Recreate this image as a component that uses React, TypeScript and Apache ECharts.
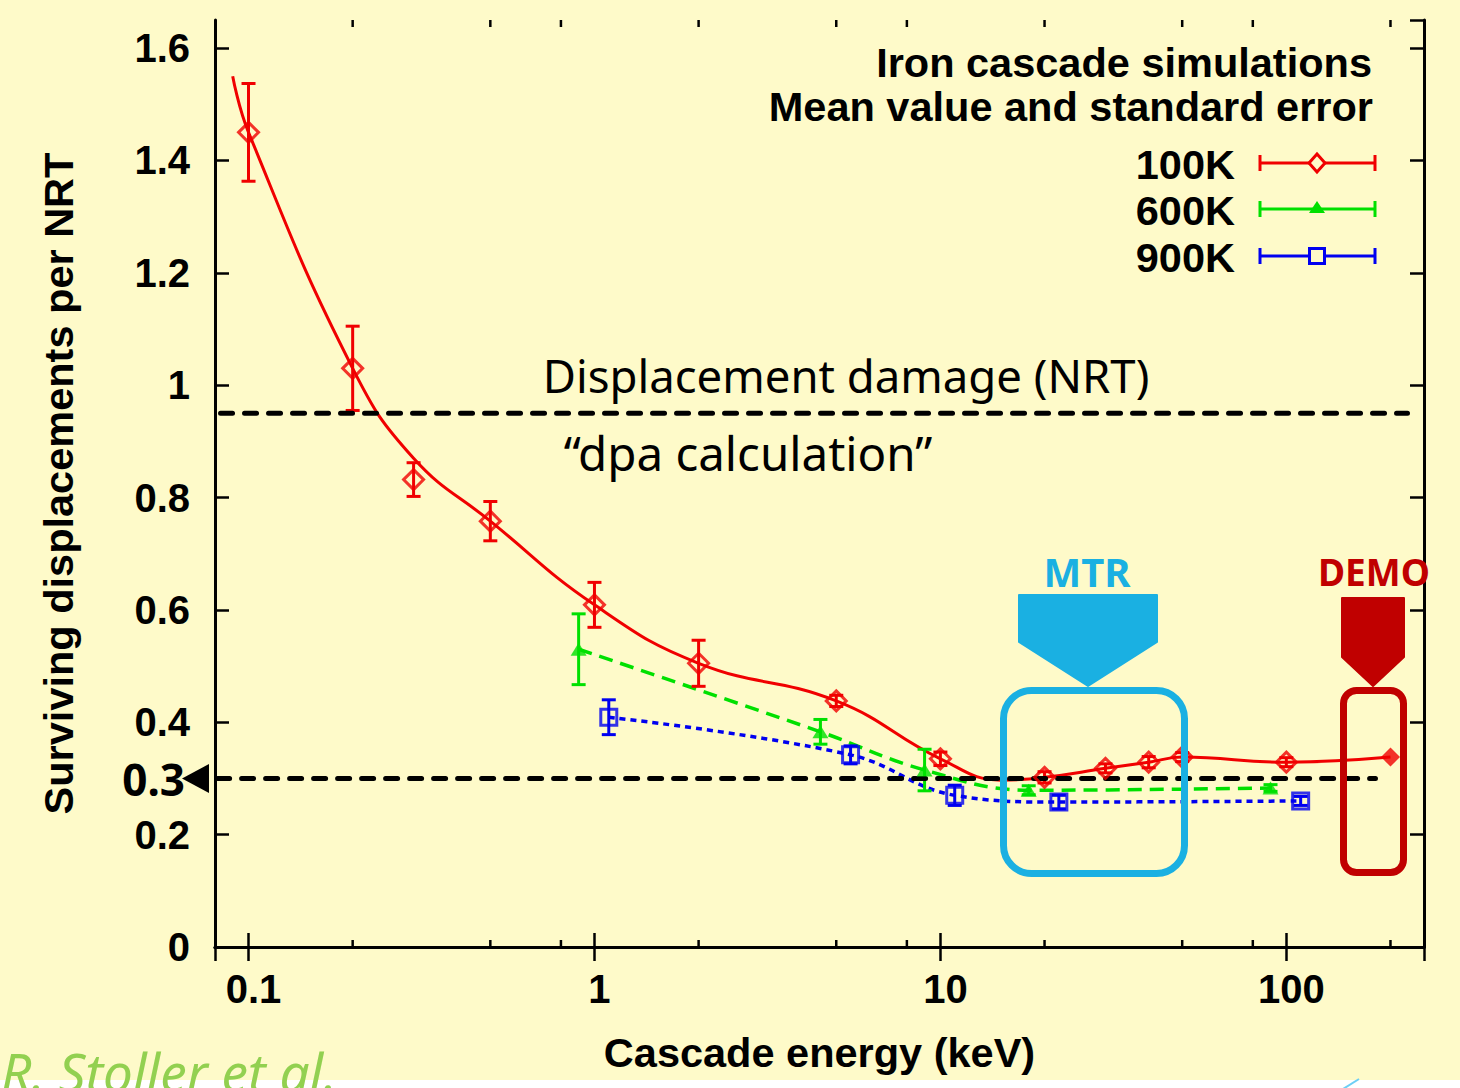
import React, { useEffect, useRef } from "react";
import * as echarts from "echarts";

// ---- data -------------------------------------------------------------
// 100K: cascade energy (keV), mean surviving displacements per NRT, standard error
const energy100K = [0.1, 0.2, 0.3, 0.5, 1, 2, 5, 10, 20, 30, 40, 50, 100];
const mean100K = [1.45, 1.03, 0.832, 0.758, 0.609, 0.505, 0.438, 0.335, 0.302, 0.318, 0.329, 0.338, 0.329];
const err100K = [0.087, 0.075, 0.03, 0.035, 0.04, 0.041, 0.01, 0.012, 0.01, 0.008, 0.01, 0.008, 0.008];
// 100K, highest energy point (no error bar)
const energy100KHigh = [200];
const mean100KHigh = [0.338];
// smooth fit drawn through the 100K means
const fitEnergy100K = [0.09, 0.1, 0.2, 0.3, 0.5, 1, 2, 5, 10, 15, 20, 30, 40, 50, 100, 200];
const fitValue100K = [1.55, 1.45, 1.03, 0.87, 0.758, 0.609, 0.505, 0.438, 0.335, 0.297, 0.302, 0.318, 0.329, 0.338, 0.329, 0.338];

// 600K
const energy600K = [0.9, 4.5, 9, 18, 90];
const mean600K = [0.53, 0.383, 0.315, 0.279, 0.283];
const err600K = [0.063, 0.022, 0.037, 0.008, 0.006];

// 900K
const energy900K = [1.1, 5.5, 11, 22, 110];
const mean900K = [0.409, 0.342, 0.27, 0.258, 0.26];
const err900K = [0.031, 0.016, 0.018, 0.012, 0.008];

const seriesNames = ["100K", "600K", "900K"];

// reference levels (value, energy span of the dashed line)
const nrtLevel = 0.95;
const nrtSpan = [0.083, 224];
const thresholdLevel = 0.3;
const thresholdSpan = [0.0814, 181];
const thresholdLabel = "0.3";

// axes
const X_MIN = 0.08;
const X_MAX = 250;
const Y_MIN = 0;
const Y_MAX = 1.65;
const Y_STEP = 0.2;
const xMinorTicks = [0.2, 0.5, 0.8, 2, 5, 8, 20, 50, 80, 200];

// ---- styles -----------------------------------------------------------
const RED = "#f00000";
const GREEN = "#00e000";
const BLUE = "#0000f0";
const MTR_BLUE = "#1ab0e2";
const DEMO_RED = "#c00000";
const BG = "#fefac9";
const AXIS_FONT = '"Liberation Sans", Arial, sans-serif';
const SLIDE_FONT = '"Noto Sans", sans-serif';

const tickText = { fontFamily: AXIS_FONT, fontWeight: "bold" as const, fontSize: 40, color: "#000" };
const nameText = { fontFamily: AXIS_FONT, fontWeight: "bold" as const, fontSize: 41.5, color: "#000" };

const zip = (xs: number[], ys: number[]) => xs.map((x, i) => [x, ys[i]]);

function errorBars(xs: number[], ys: number[], es: number[], color: string) {
  return {
    type: "custom",
    z: 4,
    clip: false,
    silent: true,
    data: xs.map((x, i) => [x, ys[i] - es[i], ys[i] + es[i]]),
    renderItem: (_p: any, api: any) => {
      const lo = api.coord([api.value(0), api.value(1)]);
      const hi = api.coord([api.value(0), api.value(2)]);
      const hw = 7;
      const style = { stroke: color, lineWidth: 3, fill: null };
      return {
        type: "group",
        children: [
          { type: "line", shape: { x1: lo[0], y1: lo[1], x2: hi[0], y2: hi[1] }, style },
          { type: "line", shape: { x1: lo[0] - hw, y1: lo[1], x2: lo[0] + hw, y2: lo[1] }, style },
          { type: "line", shape: { x1: hi[0] - hw, y1: hi[1], x2: hi[0] + hw, y2: hi[1] }, style },
        ],
      };
    },
  };
}

function buildOption(): any {
  const frameLine = { show: true, lineStyle: { color: "#000", width: 3 } };
  const majorTick = { show: true, inside: true, length: 14, lineStyle: { color: "#000", width: 2.5 } };
  const hidden = { show: false };
  return {
    animation: false,
    backgroundColor: BG,
    grid: { left: 215, right: 36, top: 20, bottom: 141, containLabel: false },
    xAxis: [
      {
        type: "log",
        logBase: 10,
        min: X_MIN,
        max: X_MAX,
        position: "bottom",
        axisLine: frameLine,
        axisTick: majorTick,
        splitLine: hidden,
        axisLabel: { ...tickText, margin: 22, padding: [0, 0, 0, 10], showMinLabel: false, showMaxLabel: false },
        name: "Cascade energy (keV)",
        nameLocation: "middle",
        nameGap: 84,
        nameTextStyle: nameText,
      },
      {
        type: "log",
        logBase: 10,
        min: X_MIN,
        max: X_MAX,
        position: "top",
        axisLine: frameLine,
        axisTick: majorTick,
        splitLine: hidden,
        axisLabel: hidden,
      },
    ],
    yAxis: [
      {
        type: "value",
        min: Y_MIN,
        max: Y_MAX,
        interval: Y_STEP,
        position: "left",
        axisLine: frameLine,
        axisTick: majorTick,
        splitLine: hidden,
        axisLabel: { ...tickText, margin: 25, showMaxLabel: false },
        name: "Surviving displacements per NRT",
        nameLocation: "middle",
        nameGap: 136,
        nameTextStyle: nameText,
      },
      {
        type: "value",
        min: Y_MIN,
        max: Y_MAX,
        interval: Y_STEP,
        position: "right",
        axisLine: frameLine,
        axisTick: majorTick,
        splitLine: hidden,
        axisLabel: hidden,
      },
    ],
    series: [
      // minor ticks of the log energy axis, bottom and top edges
      {
        type: "custom",
        z: 1,
        clip: false,
        silent: true,
        data: xMinorTicks.map((v) => [v, Y_MIN]),
        renderItem: (_p: any, api: any) => {
          const b = api.coord([api.value(0), Y_MIN]);
          const t = api.coord([api.value(0), Y_MAX]);
          const style = { stroke: "#000", lineWidth: 2.5 };
          return {
            type: "group",
            children: [
              { type: "line", shape: { x1: b[0], y1: b[1], x2: b[0], y2: b[1] - 7 }, style },
              { type: "line", shape: { x1: t[0], y1: t[1], x2: t[0], y2: t[1] + 7 }, style },
            ],
          };
        },
      },
      {
        name: seriesNames[0],
        type: "line",
        z: 3,
        data: zip(fitEnergy100K, fitValue100K),
        smooth: 0.45,
        showSymbol: false,
        lineStyle: { color: RED, width: 3 },
      },
      {
        name: seriesNames[1],
        type: "line",
        z: 3,
        data: zip(energy600K, mean600K),
        smooth: 0.4,
        showSymbol: false,
        lineStyle: { color: GREEN, width: 3.5, type: [14, 8] },
      },
      {
        name: seriesNames[2],
        type: "line",
        z: 3,
        data: zip(energy900K, mean900K),
        smooth: 0.4,
        showSymbol: false,
        lineStyle: { color: BLUE, width: 3.5, type: [6, 5] },
      },
      errorBars(energy100K, mean100K, err100K, RED),
      errorBars(energy600K, mean600K, err600K, GREEN),
      errorBars(energy900K, mean900K, err900K, BLUE),
      // reference levels
      {
        type: "line",
        z: 5,
        data: [[nrtSpan[0], nrtLevel], [nrtSpan[1], nrtLevel]],
        showSymbol: false,
        lineStyle: { color: "#000", width: 5, type: [12, 12], cap: "round" },
      },
      {
        type: "line",
        z: 5,
        data: [[thresholdSpan[0], thresholdLevel], [thresholdSpan[1], thresholdLevel]],
        showSymbol: false,
        lineStyle: { color: "#000", width: 5, type: [12, 12], cap: "round" },
      },
      {
        type: "scatter",
        z: 6,
        data: zip(energy100K, mean100K),
        symbol: "diamond",
        symbolSize: [20, 20],
        itemStyle: { color: "rgba(0,0,0,0)", borderColor: RED, borderWidth: 3 },
      },
      {
        type: "scatter",
        z: 6,
        data: zip(energy100KHigh, mean100KHigh),
        symbol: "diamond",
        symbolSize: [19, 19],
        itemStyle: { color: RED },
      },
      {
        type: "scatter",
        z: 6,
        data: zip(energy600K, mean600K),
        symbol: "triangle",
        symbolSize: [16, 13],
        itemStyle: { color: GREEN },
      },
      {
        type: "scatter",
        z: 6,
        data: zip(energy900K, mean900K),
        symbol: "rect",
        symbolSize: [16, 16],
        itemStyle: { color: "rgba(0,0,0,0)", borderColor: BLUE, borderWidth: 3 },
      },
    ],
  };
}

function legendMarker(kind: string, cx: number, cy: number, color: string): any {
  if (kind === "diamond") {
    return {
      type: "polygon",
      shape: { points: [[cx, cy - 9], [cx + 8, cy], [cx, cy + 9], [cx - 8, cy]] },
      style: { fill: BG, stroke: color, lineWidth: 3 },
    };
  }
  if (kind === "triangle") {
    return {
      type: "polygon",
      shape: { points: [[cx, cy - 8], [cx + 8, cy + 4], [cx - 8, cy + 4]] },
      style: { fill: color },
    };
  }
  return {
    type: "rect",
    shape: { x: cx - 7.5, y: cy - 7.5, width: 15, height: 15 },
    style: { fill: BG, stroke: color, lineWidth: 3 },
  };
}

function buildGraphics(x0: number, yThreshold: number): any[] {
  const headFont = `bold 41.5px ${AXIS_FONT}`;
  const rows = [
    { name: seriesNames[0], color: RED, kind: "diamond", y: 163 },
    { name: seriesNames[1], color: GREEN, kind: "triangle", y: 209 },
    { name: seriesNames[2], color: BLUE, kind: "rect", y: 256 },
  ];
  const legend: any[] = [];
  rows.forEach((r) => {
    const ls = { stroke: r.color, lineWidth: 3 };
    legend.push(
      { type: "text", x: 1235, y: r.y + 1, style: { text: r.name, font: headFont, fill: "#000", textAlign: "right", textVerticalAlign: "middle" } },
      { type: "line", shape: { x1: 1260, y1: r.y, x2: 1375, y2: r.y }, style: ls },
      { type: "line", shape: { x1: 1260, y1: r.y - 8, x2: 1260, y2: r.y + 8 }, style: ls },
      { type: "line", shape: { x1: 1375, y1: r.y - 8, x2: 1375, y2: r.y + 8 }, style: ls },
      legendMarker(r.kind, 1317, r.y, r.color)
    );
  });

  return [
    { type: "rect", z: 0, silent: true, shape: { x: 0, y: 1080, width: 1460, height: 8 }, style: { fill: "#ffffff" } },
    { type: "line", z: 1, shape: { x1: 1343, y1: 1089, x2: 1359, y2: 1079 }, style: { stroke: "#6ccff5", lineWidth: 2 } },
    { type: "text", z: 10, x: 1372, y: 62, style: { text: "Iron cascade simulations", font: headFont, fill: "#000", textAlign: "right", textVerticalAlign: "middle" } },
    { type: "text", z: 10, x: 1373, y: 106, style: { text: "Mean value and standard error", font: headFont, fill: "#000", textAlign: "right", textVerticalAlign: "middle" } },
    ...legend.map((g) => ({ ...g, z: 10 })),
    // NRT annotation
    { type: "text", z: 10, x: 846, y: 375, style: { text: "Displacement damage (NRT)", font: `45.5px ${SLIDE_FONT}`, fill: "#000", textAlign: "center", textVerticalAlign: "middle" } },
    { type: "text", z: 10, x: 748, y: 452, style: { text: "\u201cdpa calculation\u201d", font: `47.5px ${SLIDE_FONT}`, fill: "#000", textAlign: "center", textVerticalAlign: "middle" } },
    // threshold label and pointer
    { type: "polygon", z: 10, shape: { points: [[x0 - 33, yThreshold], [x0 - 6, yThreshold - 14.5], [x0 - 6, yThreshold + 14.5]] }, style: { fill: "#000" } },
    { type: "text", z: 9, x: x0 - 30, y: yThreshold + 1, style: { text: thresholdLabel, font: `bold 44px ${SLIDE_FONT}`, fill: "#000", textAlign: "right", textVerticalAlign: "middle" } },
    // MTR callout
    { type: "text", z: 10, x: 1087, y: 571, style: { text: "MTR", font: `bold 40px ${SLIDE_FONT}`, fill: MTR_BLUE, textAlign: "center", textVerticalAlign: "middle" } },
    { type: "polygon", z: 10, shape: { points: [[1019, 595], [1157, 595], [1157, 642], [1088, 686], [1019, 642]] }, style: { fill: MTR_BLUE, stroke: MTR_BLUE, lineWidth: 2, lineJoin: "round" } },
    { type: "rect", z: 10, shape: { x: 1003.5, y: 690.5, width: 181, height: 183, r: 28 }, style: { fill: "none", stroke: MTR_BLUE, lineWidth: 7 } },
    // DEMO callout
    { type: "text", z: 10, x: 1374, y: 571, style: { text: "DEMO", font: `bold 37px ${SLIDE_FONT}`, fill: DEMO_RED, textAlign: "center", textVerticalAlign: "middle" } },
    { type: "polygon", z: 10, shape: { points: [[1342, 598], [1404, 598], [1404, 657], [1373, 686], [1342, 657]] }, style: { fill: DEMO_RED, stroke: DEMO_RED, lineWidth: 2, lineJoin: "round" } },
    { type: "rect", z: 10, shape: { x: 1343.5, y: 690.5, width: 60, height: 182, r: 13 }, style: { fill: "none", stroke: DEMO_RED, lineWidth: 7 } },
    // credit
    { type: "text", z: 10, x: 1, y: 1071, style: { text: "R. Stoller et al.", font: `italic 53px ${SLIDE_FONT}`, fill: "#92d050", textAlign: "left", textVerticalAlign: "middle" } },
  ];
}

export default function App() {
  const ref = useRef<HTMLDivElement>(null);
  useEffect(() => {
    const el = ref.current;
    if (!el) return;
    const chart = echarts.init(el, undefined, { renderer: "svg" });
    chart.setOption(buildOption());
    const p = chart.convertToPixel({ xAxisIndex: 0, yAxisIndex: 0 }, [X_MIN, thresholdLevel]) as number[];
    chart.setOption({ graphic: buildGraphics(p[0], p[1]) });
    return () => chart.dispose();
  }, []);
  return (
    <div
      ref={ref}
      style={{ position: "absolute", left: 0, top: 0, width: 1460, height: 1088 }}
    />
  );
}
